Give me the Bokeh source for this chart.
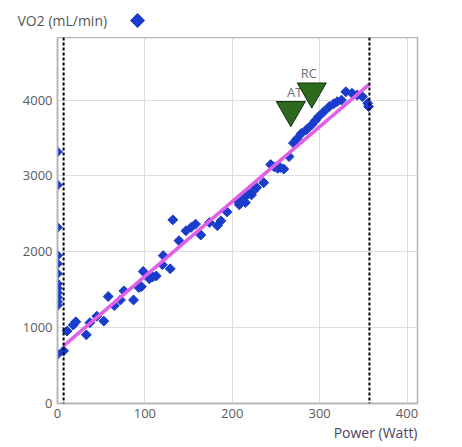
import numpy as np
from bokeh.plotting import figure
from bokeh.layouts import column
from bokeh.models import ColumnDataSource, Span, FixedTicker, Title
from bokeh.core.properties import value
from bokeh.embed import file_html
from bokeh.resources import INLINE

# ---- data ----
power = [0, 0, 0, 0, 0, 0, 0, 0, 0, 0, 0, 0, 0,
         7, 11, 18, 21, 33, 37, 45, 53, 58, 65, 72, 76, 87, 93, 96, 98,
         105, 109, 113, 120, 121, 129, 132, 139, 147, 153, 158, 164, 174,
         183, 187, 194, 206, 208, 212, 215, 218, 222, 224, 228, 236,
         244, 248, 252, 255, 259, 265, 270, 274, 279, 285, 291, 295, 299,
         305, 311, 316, 320, 325, 330, 337, 343, 349, 355, 356]
vo2 = [3317, 2880, 2322, 1950, 1842, 1711, 1580, 1520, 1460, 1400, 1340, 1295, 650,
       694, 955, 1034, 1078, 905, 1065, 1150, 1086, 1410, 1290, 1365, 1485, 1365, 1530, 1540, 1741,
       1645, 1668, 1681, 1829, 1950, 1776, 2421, 2147, 2277, 2322, 2365, 2221, 2387,
       2343, 2408, 2526, 2670, 2620, 2700, 2649, 2760, 2750, 2800, 2846, 2911,
       3150, 3120, 3100, 3110, 3090, 3255, 3434, 3490, 3560, 3610, 3674, 3730, 3783,
       3850, 3914, 3950, 3979, 4000, 4110, 4090, 4067, 4045, 3958, 3914]

fit_x = [7, 357]
fit_y = [760, 4210]

test_start = 7
test_end = 357

thr_names = ["AT", "RC"]
thr_power = [267, 291]
thr_vo2 = [3870, 4115]

x_ticks = [0, 100, 200, 300, 400]
y_ticks = [0, 1000, 2000, 3000, 4000]

series_name = "VO2 (mL/min)"
x_title = "Power (Watt)"

FONT = "Open Sans"
BLUE = "#1a3ccc"

# ---- legend strip on top ----
top = figure(width=462, height=37, output_backend="svg", toolbar_location=None,
             x_range=(0, 462), y_range=(37, 0), x_axis_type=None, y_axis_type=None,
             min_border=0)
top.frame_align = False
top.outline_line_color = None
top.grid.visible = False
top.text(x=[17], y=[20], text=[series_name], text_align="left", text_baseline="middle",
         text_font=value(FONT), text_font_size="14px", text_color="#555555")
top.scatter(x=[137], y=[20], marker="square", angle=np.pi / 4, size=10,
            fill_color=BLUE, line_color=BLUE)

# ---- main plot ----
p = figure(width=462, height=410, output_backend="svg", toolbar_location=None,
           x_range=(0, 412), y_range=(0, 4825),
           min_border_left=57, min_border_right=45, min_border_top=0, min_border_bottom=44)
p.frame_align = False
p.background_fill_color = "white"
p.border_fill_color = "white"
p.outline_line_color = "#b4b4b4"
p.outline_line_width = 1.5

for ax in (p.xaxis[0], p.yaxis[0]):
    ax.major_tick_in = 0
    ax.major_tick_out = 0
    ax.minor_tick_in = 0
    ax.minor_tick_out = 0
    ax.axis_line_color = "#b4b4b4"
    ax.axis_line_width = 1.5
    ax.major_label_text_font = FONT
    ax.major_label_text_font_size = "13px"
    ax.major_label_text_color = "#5a5a5a"
    ax.major_label_standoff = 5
p.xaxis.ticker = FixedTicker(ticks=x_ticks)
p.yaxis.ticker = FixedTicker(ticks=y_ticks)
p.xgrid.grid_line_color = "#dcdcdc"
p.ygrid.grid_line_color = "#dcdcdc"

p.add_layout(Title(text=x_title, align="right", standoff=0,
                   text_font=FONT, text_font_size="14px", text_font_style="normal",
                   text_color="#4b4466"), "below")

src = ColumnDataSource(dict(x=power, y=vo2))
p.scatter("x", "y", source=src, marker="square", angle=np.pi / 4, size=7,
          fill_color=BLUE, line_color=BLUE, line_width=1)

p.line(fit_x, fit_y, line_color="#e060e8", line_width=3.5)

for loc in (test_start, test_end):
    p.add_layout(Span(location=loc, dimension="height", line_color="black",
                      line_width=2, line_dash="3 2"))

label_dx = [4, -3]
for i in range(len(thr_names)):
    s = ColumnDataSource(dict(x=[thr_power[i]], y=[thr_vo2[i]], t=[thr_names[i]]))
    p.scatter("x", "y", source=s, marker="inverted_triangle", size=29,
              fill_color="#2e6a1e", line_color="#12300a", line_width=1)
    p.text("x", "y", text="t", source=s, x_offset=label_dx[i], y_offset=-18,
           text_align="center", text_baseline="middle",
           text_font=value(FONT), text_font_size="13px", text_color="#707070")

layout = column(top, p, spacing=0)
open("out.html", "w").write(file_html(layout, INLINE))
